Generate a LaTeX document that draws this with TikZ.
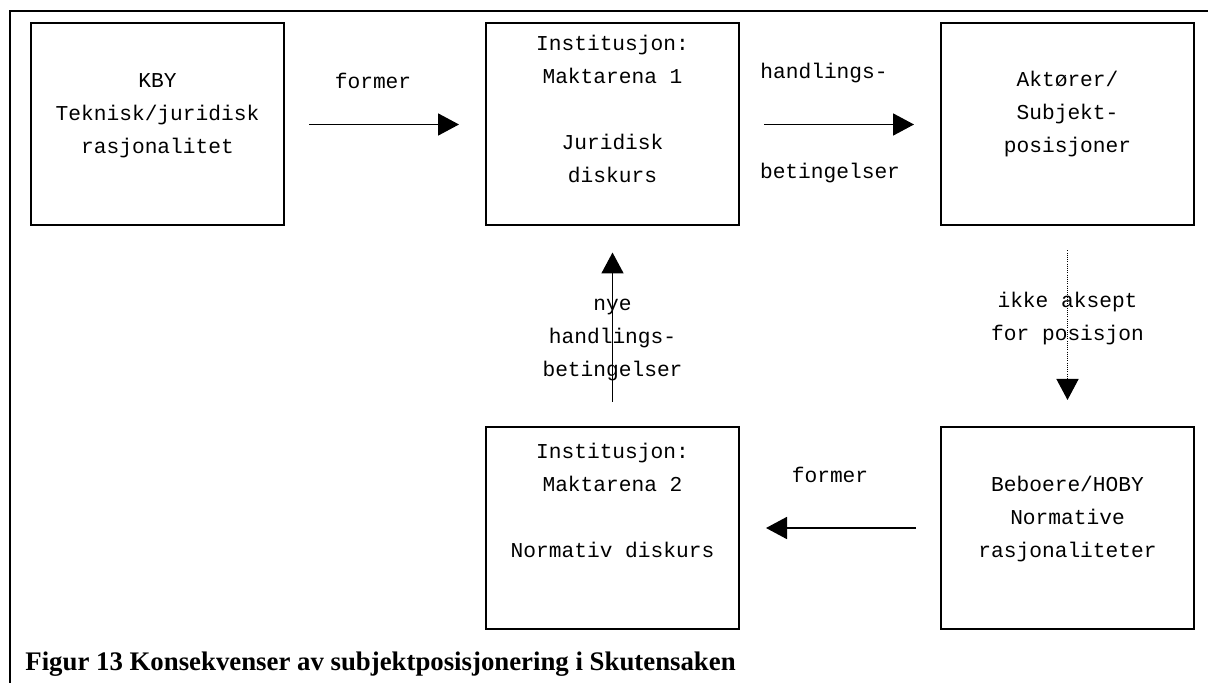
\documentclass[tikz,border=0pt]{standalone}
\usepackage{fontspec}
\setmainfont{Liberation Serif}
\newfontfamily\boxfont{Liberation Mono}
\usetikzlibrary{arrows.meta}

\begin{document}
\begin{tikzpicture}[x=0.5pt, y=-0.5pt,
    box/.style={draw, line width=1pt, minimum width=126.5pt, minimum height=101pt, inner sep=0pt},
    txt/.style={font=\boxfont\fontsize{10.6}{16.5}\selectfont, align=center, inner sep=0pt, anchor=base},
    arr/.style={line width=0.9pt, -{Triangle[length=10.5pt, width=11pt]}, shorten <=12pt, shorten >=13pt},
    darr/.style={arr, line width=0.7pt, dash pattern=on 0.5pt off 0.6pt}]

        \useasboundingbox (0,0) rectangle (1208,683);
        \draw[line width=0.75pt] (10,700) -- (10,11) -- (1230,11);

        \node[box] (kby) at (157.5,124.5) {};
        \node[box] (mak1) at (612.5,124.5) {};
        \node[box] (aktor) at (1067.5,124.5) {};
        \node[box] (mak2) at (612.5,528) {};
        \node[box] (bebo) at (1067.5,528) {};

        \node[txt] (kbytxt) at ([yshift=-65.5pt]kby.north) {KBY\\Teknisk/juridisk\\rasjonalitet};
        \node[txt] (mak1txt) at ([yshift=-80pt]mak1.north) {Institusjon:\\Maktarena 1\\[16.5pt]Juridisk\\diskurs};
        \node[txt] (aktortxt) at ([yshift=-65pt]aktor.north) {Aktører/\\Subjekt-\\posisjoner};
        \node[txt] (mak2txt) at ([yshift=-65.5pt]mak2.north) {Institusjon:\\Maktarena 2\\[16.5pt]Normativ diskurs};
        \node[txt] (bebotxt) at ([yshift=-65.5pt]bebo.north) {Beboere/HOBY\\Normative\\rasjonaliteter};

        \draw[arr] (kby) -- (mak1) node[txt, pos=0.44, yshift=18pt] (l1) {former};
        \draw[arr] (mak1) -- (aktor)
            node[txt, pos=0.42, yshift=23pt] (l2a) {handlings-}
            node[txt, pos=0.45, yshift=-27pt] (l2b) {betingelser};
        \draw[darr] (aktor) -- (bebo) node[txt, pos=0.57] (l3) {ikke aksept\\for posisjon};
        \draw[arr] (bebo) -- (mak2) node[txt, pos=0.55, yshift=23pt] (l4) {former};
        \draw[arr] (mak2) -- (mak1) node[txt, pos=0.25] (l5) {nye\\handlings-\\betingelser};

        \node[anchor=base west, inner sep=0pt, font=\bfseries\fontsize{13.4}{16}\selectfont] (cap) at (25,670)
            {Figur 13 Konsekvenser av subjektposisjonering i Skutensaken};

\end{tikzpicture}
\end{document}
